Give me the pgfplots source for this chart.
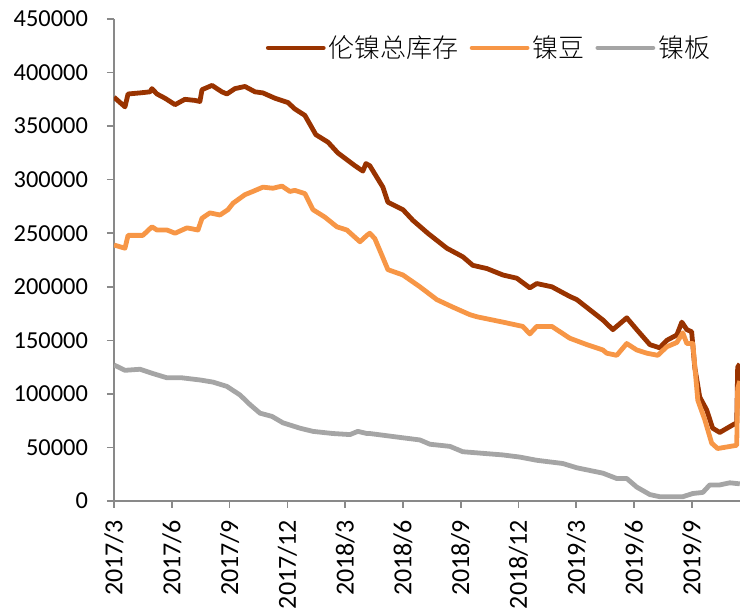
\documentclass[border=0pt]{standalone}
\usepackage{pgfplots}
\pgfplotsset{compat=1.18}
\usepackage{pgfplotstable}
\usepackage{fontspec}
\setmainfont{Carlito}
\newfontfamily\cjk{Noto Sans CJK SC}[UprightFont={* Light}]
\definecolor{cTotal}{RGB}{153,51,0}
\definecolor{cBean}{RGB}{247,150,70}
\definecolor{cPlate}{RGB}{165,165,165}
\definecolor{cAxis}{RGB}{137,137,137}
\pgfplotstableread{
m v
0 377000
0.57 368000
0.73 380000
1.35 381000
1.87 382000
1.97 385000
2.23 380000
2.65 376000
3.17 370000
3.68 375000
4.20 374000
4.46 373000
4.57 384000
5.09 388000
5.60 382000
5.86 380000
6.28 385000
6.80 387000
7.32 382000
7.73 381000
8.36 376000
9.03 372000
9.39 366000
9.91 360000
10.48 342000
11.11 335000
11.62 325000
12.51 313000
12.92 308000
13.08 315000
13.28 313000
13.96 293000
14.22 279000
15.00 272000
15.52 262000
16.29 250000
17.28 236000
18.11 228000
18.63 220000
19.36 217000
20.19 211000
20.91 208000
21.59 199000
21.95 203000
22.73 200000
23.66 191000
24.03 188000
25.38 169000
25.90 160000
26.62 171000
27.14 160000
27.82 146000
28.33 143000
28.70 150000
29.22 155000
29.48 167000
29.74 160000
29.99 158000
30.15 125000
30.41 97000
30.77 85000
31.08 68000
31.45 64000
32.12 71000
32.33 73000
32.38 125000
32.49 128000
}\total
\pgfplotstableread{
m v
0 239000
0.57 236000
0.73 248000
1.50 248000
1.97 256000
2.23 253000
2.75 253000
3.17 250000
3.79 255000
4.36 253000
4.57 264000
4.98 269000
5.50 267000
5.92 272000
6.18 278000
6.80 286000
7.21 289000
7.73 293000
8.25 292000
8.72 294000
9.13 289000
9.39 290000
9.91 287000
10.33 272000
10.95 265000
11.57 256000
12.09 253000
12.77 242000
13.13 248000
13.28 250000
13.54 245000
13.80 234000
14.22 216000
15.00 211000
15.88 200000
16.76 188000
17.59 181000
18.47 174000
18.84 172000
20.19 167000
21.22 163000
21.59 156000
21.95 163000
22.73 163000
23.66 152000
24.55 146000
25.38 141000
25.58 138000
26.10 136000
26.62 147000
27.14 141000
27.66 138000
28.23 136000
28.70 144000
29.22 148000
29.53 157000
29.74 147000
30.05 147000
30.31 94000
30.67 76000
31.03 54000
31.34 49000
32.33 52000
32.38 105000
32.49 112000
}\bean
\pgfplotstableread{
m v
0 127000
0.57 122000
1.35 123000
2.02 119000
2.75 115000
3.53 115000
4.46 113000
5.14 111000
5.86 107000
6.54 99000
7.06 90000
7.58 82000
8.20 79000
8.77 73000
9.65 68000
10.33 65000
11.36 63000
12.25 62000
12.66 65000
13.13 63000
13.28 63000
15.00 59000
15.88 57000
16.40 53000
17.44 51000
18.11 46000
20.19 43000
21.07 41000
21.95 38000
23.30 35000
24.03 31000
25.38 26000
26.10 21000
26.62 21000
27.14 13000
27.82 6000
28.33 4000
29.53 4000
30.05 7000
30.57 8000
30.93 15000
31.45 15000
31.97 17000
32.49 16000
}\plate
\begin{document}
\begin{tikzpicture}
\begin{axis}[
  scale only axis,
  width=313pt, height=241pt,
  xmin=0, xmax=32.5,
  ymin=0, ymax=450000,
  axis lines*=left,
  axis line style={cAxis, line width=0.8pt},
  tick style={cAxis, line width=0.8pt},
  tick align=outside,
  major tick length=3.5pt,
  xtick={0,3,6,9,12,15,18,21,24,27,30},
  xticklabels={2017/3,2017/6,2017/9,2017/12,2018/3,2018/6,2018/9,2018/12,2019/3,2019/6,2019/9},
  xticklabel style={yshift=-2.5pt, rotate=90, anchor=east, font=\fontsize{13}{15}\selectfont},
  ytick={0,50000,...,450000},
  yticklabel style={xshift=-6pt, font=\fontsize{12.2}{14}\selectfont},
  scaled y ticks=false,
  /pgf/number format/fixed,
  /pgf/number format/1000 sep={},
  /pgf/number format/assume math mode=true,
  legend columns=3,
  legend style={draw=none, fill=none, at={(0.958,0.94)}, anchor=east,
    font=\cjk\fontsize{13}{15}\selectfont, inner sep=0pt,
    nodes={inner sep=1.5pt},
    /tikz/every even column/.append style={column sep=4pt}},
  legend image code/.code={\draw[#1, line cap=round] (0pt,0pt) -- (27.5pt,0pt);},
  every axis plot/.append style={line width=2.4pt, line join=round},
]
\addplot[cTotal] table[x=m,y=v] {\total};
\addlegendentry{伦镍总库存}
\addplot[cBean] table[x=m,y=v] {\bean};
\addlegendentry{镍豆}
\addplot[cPlate] table[x=m,y=v] {\plate};
\addlegendentry{镍板}
\end{axis}
\pgfresetboundingbox
\path[use as bounding box] (-57pt,-54.5pt) rectangle (313pt,250.5pt);
\end{tikzpicture}
\end{document}
